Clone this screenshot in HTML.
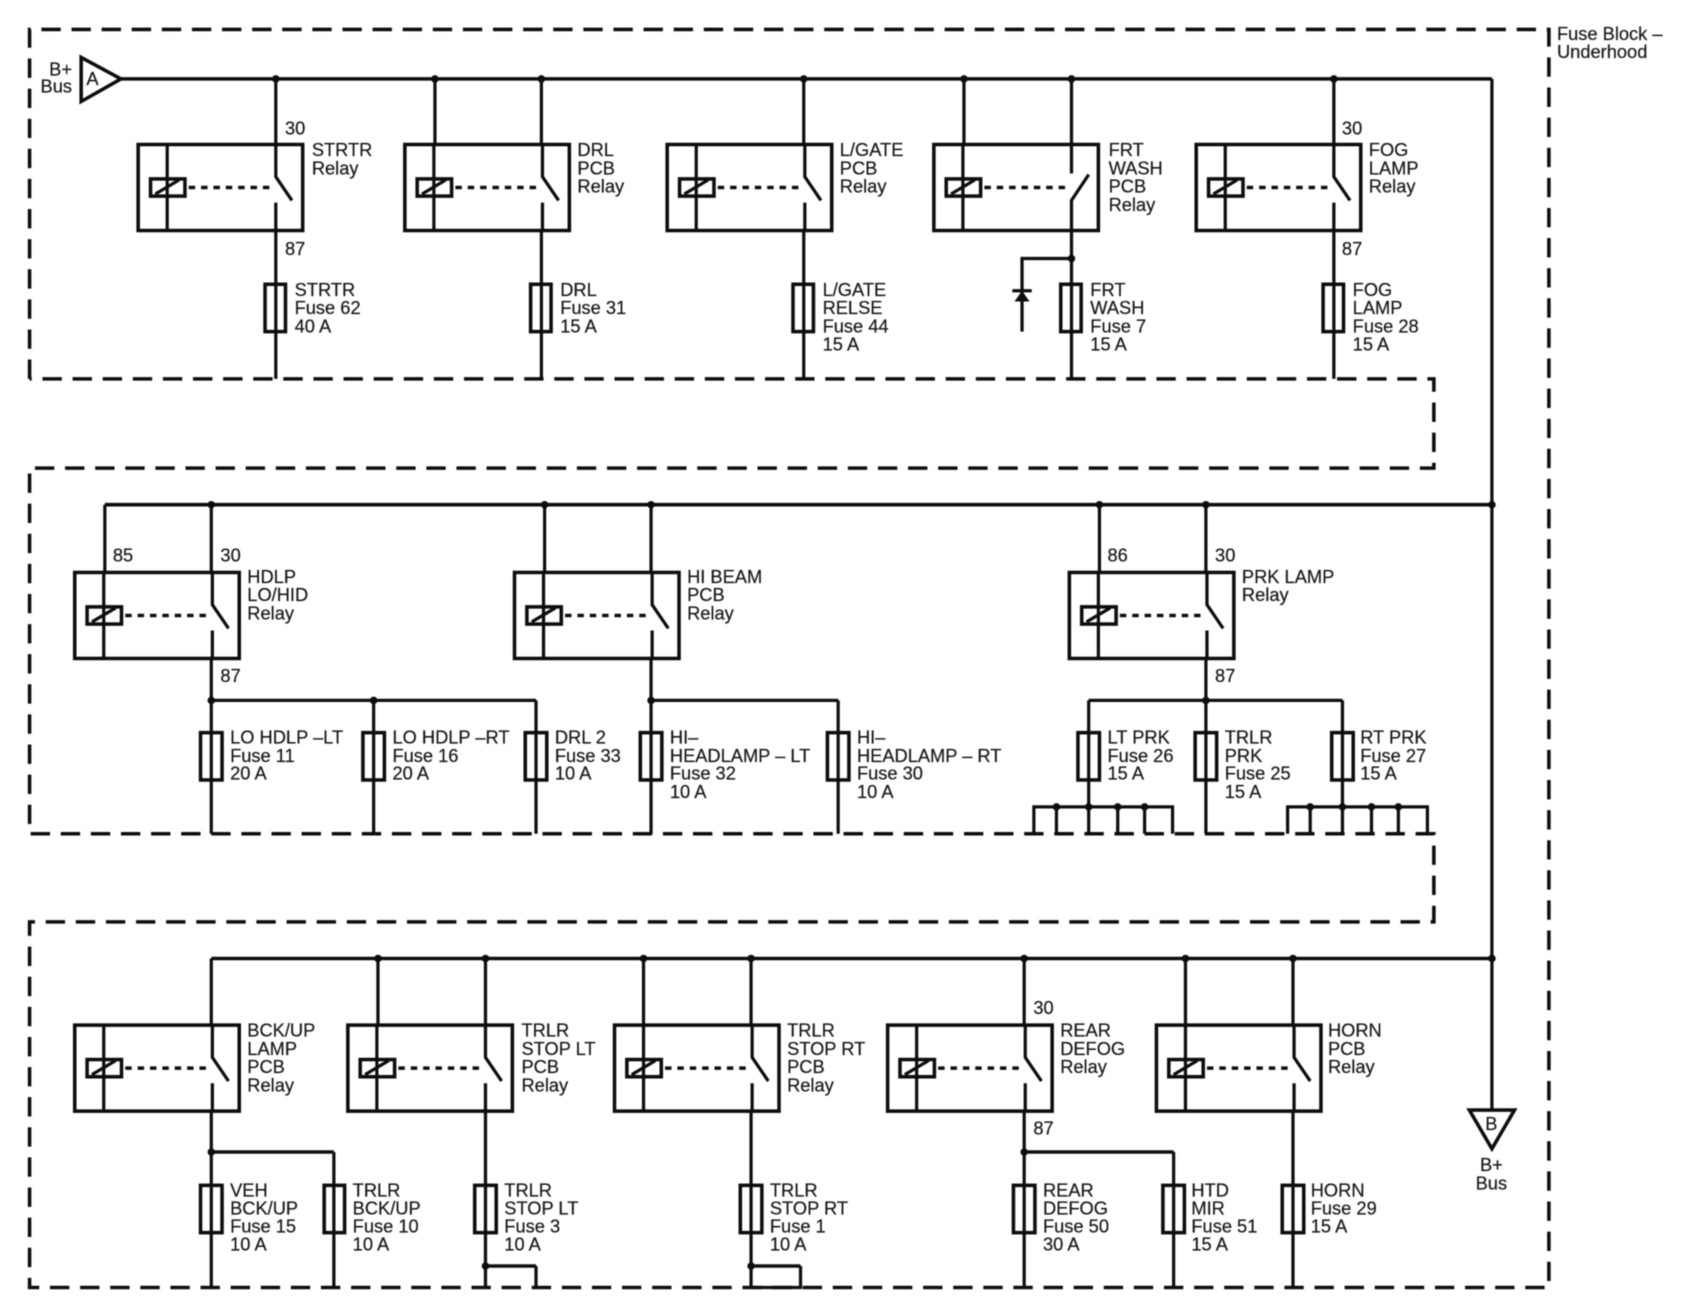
<!DOCTYPE html>
<html><head><meta charset="utf-8"><style>
html,body{margin:0;padding:0;background:#fff;width:1686px;height:1312px;overflow:hidden}
svg{display:block}
text{font-family:"Liberation Sans",sans-serif;font-size:17px;fill:#1a1a1a;stroke:#1a1a1a;stroke-width:0.2}
.w{stroke:#111;stroke-width:3;fill:none}
.t{stroke:#111;stroke-width:3.3;fill:none}
</style></head><body>
<svg width="1686" height="1312" viewBox="0 0 1568 1220" xmlns="http://www.w3.org/2000/svg">
<defs>
<filter id="b"><feGaussianBlur stdDeviation="0.5"/></filter>
<g id="core">
<rect class="t" x="0" y="0" width="153" height="80"/>
<path class="w" d="M27 0V80"/>
<rect class="t" x="11.5" y="32" width="32" height="16" fill="#fff"/>
<path class="w" d="M16 46L38 33"/>
<path class="t" d="M47 40H125" stroke-dasharray="6 5.5"/>
</g>
<g id="r">
<use href="#core"/>
<path class="w" d="M128 0V30L143 52M128 54V80"/>
</g>
</defs>
<g filter="url(#b)">
<g transform="translate(0.5,0.3)">
<!-- dashed enclosure -->
<path class="t" stroke-dasharray="18 10" d="M27 352V27H1440V1197H27V857H1333V775H27V435H1333V352H27"/>

<!-- feeds -->
<path class="t" d="M112 73H1387"/>
<path class="w" d="M1387 73V1032"/>
<path class="t" d="M97 469H1387M196 891H1387"/>
<path class="w" d="M97 532V469M196 953V891"/>
<path class="w" d="M256 73V134M404 73V134M503 73V134M747 73V134M896 73V134M996 73V134M1240 73V134"/>
<path class="w" d="M506 469V532M605 469V532M1022 469V532M1121 469V532M196 469V532"/>
<path class="w" d="M351 891V953M451 891V953M598 891V953M698 891V953M952 891V953M1102 891V953M1202 891V953"/>

<!-- outputs row 1 -->
<path class="w" d="M256 214V352M503 214V352M747 214V352M996 214V352M1240 214V352"/>
<path class="w" d="M996 240H950V308"/>
<path class="w" d="M941 270H959"/>
<path d="M950 270L957 280H943Z" fill="#111"/>

<!-- outputs row 2 -->
<path class="w" d="M196 612V775M347 651V775M498 651V775M196 651H498"/>
<path class="w" d="M605 612V775M779 651V775M605 651H779"/>
<path class="w" d="M1121 612V775M1012 651V775M1248 651V775M1012 651H1248"/>
<path class="w" d="M961 775V750H1090V775M982 750V775M1039 750V775M1064 750V775"/>
<path class="w" d="M1197 775V750H1327V775M1218 750V775M1275 750V775M1300 750V775"/>

<!-- outputs row 3 -->
<path class="w" d="M196 1033V1197M310 1071V1197"/>
<path class="t" d="M196 1071H310"/>
<path class="w" d="M451 1033V1197M498 1177V1197"/>
<path class="t" d="M451 1177H498"/>
<path class="w" d="M698 1033V1197M744 1177V1197H698"/>
<path class="t" d="M698 1177H744"/>
<path class="w" d="M952 1033V1197M1091 1071V1197"/>
<path class="t" d="M952 1071H1091"/>
<path class="w" d="M1202 1033V1197"/>

<!-- relays -->
<use href="#r" x="128" y="134"/>
<use href="#r" x="376" y="134"/>
<use href="#r" x="620" y="134"/>
<g transform="translate(868,134)"><use href="#core"/><path class="w" d="M128 0V27M128 80V52L144 28"/></g>
<use href="#r" x="1112" y="134"/>
<use href="#r" x="69" y="532"/>
<use href="#r" x="478" y="532"/>
<use href="#r" x="994" y="532"/>
<use href="#r" x="69" y="953"/>
<use href="#r" x="323" y="953"/>
<use href="#r" x="571" y="953"/>
<use href="#r" x="825" y="953"/>
<use href="#r" x="1075" y="953"/>

<!-- fuses -->
<g class="t">
<rect x="246" y="264" width="19" height="44"/><rect x="493" y="264" width="19" height="44"/><rect x="737" y="264" width="19" height="44"/><rect x="986" y="264" width="19" height="44"/><rect x="1230" y="264" width="19" height="44"/>
<rect x="186" y="681" width="20" height="44"/><rect x="337" y="681" width="20" height="44"/><rect x="488" y="681" width="20" height="44"/><rect x="595" y="681" width="20" height="44"/><rect x="769" y="681" width="20" height="44"/><rect x="1002" y="681" width="20" height="44"/><rect x="1111" y="681" width="20" height="44"/><rect x="1238" y="681" width="20" height="44"/>
<rect x="186" y="1102" width="20" height="44"/><rect x="301" y="1102" width="19" height="44"/><rect x="441" y="1102" width="20" height="44"/><rect x="688" y="1102" width="20" height="44"/><rect x="942" y="1102" width="20" height="44"/><rect x="1081" y="1102" width="20" height="44"/><rect x="1192" y="1102" width="20" height="44"/>
</g>

<!-- dots -->
<g fill="#111">
<circle cx="256" cy="73" r="3.5"/><circle cx="404" cy="73" r="3.5"/><circle cx="503" cy="73" r="3.5"/><circle cx="747" cy="73" r="3.5"/><circle cx="896" cy="73" r="3.5"/><circle cx="996" cy="73" r="3.5"/><circle cx="1240" cy="73" r="3.5"/>
<circle cx="996" cy="240" r="3.5"/>
<circle cx="196" cy="469" r="3.5"/><circle cx="506" cy="469" r="3.5"/><circle cx="605" cy="469" r="3.5"/><circle cx="1022" cy="469" r="3.5"/><circle cx="1121" cy="469" r="3.5"/><circle cx="1387" cy="469" r="3.5"/>
<circle cx="196" cy="651" r="3.5"/><circle cx="347" cy="651" r="3.5"/><circle cx="605" cy="651" r="3.5"/><circle cx="1121" cy="651" r="3.5"/>
<circle cx="982" cy="750" r="3.5"/><circle cx="1012" cy="750" r="3.5"/><circle cx="1039" cy="750" r="3.5"/><circle cx="1064" cy="750" r="3.5"/>
<circle cx="1218" cy="750" r="3.5"/><circle cx="1248" cy="750" r="3.5"/><circle cx="1275" cy="750" r="3.5"/><circle cx="1300" cy="750" r="3.5"/>
<circle cx="351" cy="891" r="3.5"/><circle cx="451" cy="891" r="3.5"/><circle cx="598" cy="891" r="3.5"/><circle cx="698" cy="891" r="3.5"/><circle cx="952" cy="891" r="3.5"/><circle cx="1102" cy="891" r="3.5"/><circle cx="1202" cy="891" r="3.5"/><circle cx="1387" cy="891" r="3.5"/>
<circle cx="196" cy="1071" r="3.5"/><circle cx="952" cy="1071" r="3.5"/><circle cx="451" cy="1177" r="3.5"/><circle cx="698" cy="1177" r="3.5"/>
</g>

<!-- triangles -->
<path class="t" fill="#fff" d="M75 53L112 73L75 94Z"/>
<path class="t" fill="#fff" d="M1366 1032H1408L1387 1068Z"/>
</g>

<!-- labels -->
<text x="86" y="79" text-anchor="middle">A</text>
<text x="1387" y="1051" text-anchor="middle">B</text>
<text x="67" y="70" text-anchor="end">B+</text>
<text x="67" y="86" text-anchor="end">Bus</text>
<text x="1387" y="1089" text-anchor="middle">B+</text>
<text x="1387" y="1106" text-anchor="middle">Bus</text>
<text x="1448" y="37">Fuse Block –</text>
<text x="1448" y="54">Underhood</text>

<text x="265" y="125">30</text><text x="265" y="237">87</text>
<text x="1248" y="125">30</text><text x="1248" y="237">87</text>
<text x="105" y="522">85</text><text x="205" y="522">30</text><text x="205" y="634">87</text>
<text x="1030" y="522">86</text><text x="1130" y="522">30</text><text x="1130" y="634">87</text>
<text x="961" y="943">30</text><text x="961" y="1055">87</text>

<text x="290" y="145">STRTR</text><text x="290" y="162">Relay</text>
<text x="537" y="145">DRL</text><text x="537" y="162">PCB</text><text x="537" y="179">Relay</text>
<text x="781" y="145">L/GATE</text><text x="781" y="162">PCB</text><text x="781" y="179">Relay</text>
<text x="1031" y="145">FRT</text><text x="1031" y="162">WASH</text><text x="1031" y="179">PCB</text><text x="1031" y="196">Relay</text>
<text x="1273" y="145">FOG</text><text x="1273" y="162">LAMP</text><text x="1273" y="179">Relay</text>

<text x="274" y="275">STRTR</text><text x="274" y="292">Fuse 62</text><text x="274" y="309">40 A</text>
<text x="521" y="275">DRL</text><text x="521" y="292">Fuse 31</text><text x="521" y="309">15 A</text>
<text x="765" y="275">L/GATE</text><text x="765" y="292">RELSE</text><text x="765" y="309">Fuse 44</text><text x="765" y="326">15 A</text>
<text x="1014" y="275">FRT</text><text x="1014" y="292">WASH</text><text x="1014" y="309">Fuse 7</text><text x="1014" y="326">15 A</text>
<text x="1258" y="275">FOG</text><text x="1258" y="292">LAMP</text><text x="1258" y="309">Fuse 28</text><text x="1258" y="326">15 A</text>

<text x="230" y="542">HDLP</text><text x="230" y="559">LO/HID</text><text x="230" y="576">Relay</text>
<text x="639" y="542">HI BEAM</text><text x="639" y="559">PCB</text><text x="639" y="576">Relay</text>
<text x="1155" y="542">PRK LAMP</text><text x="1155" y="559">Relay</text>

<text x="214" y="691.5">LO HDLP –LT</text><text x="214" y="708.5">Fuse 11</text><text x="214" y="725">20 A</text>
<text x="365" y="691.5">LO HDLP –RT</text><text x="365" y="708.5">Fuse 16</text><text x="365" y="725">20 A</text>
<text x="516" y="691.5">DRL 2</text><text x="516" y="708.5">Fuse 33</text><text x="516" y="725">10 A</text>
<text x="623" y="691.5">HI–</text><text x="623" y="708.5">HEADLAMP – LT</text><text x="623" y="725">Fuse 32</text><text x="623" y="742">10 A</text>
<text x="797" y="691.5">HI–</text><text x="797" y="708.5">HEADLAMP – RT</text><text x="797" y="725">Fuse 30</text><text x="797" y="742">10 A</text>
<text x="1030" y="691.5">LT PRK</text><text x="1030" y="708.5">Fuse 26</text><text x="1030" y="725">15 A</text>
<text x="1139" y="691.5">TRLR</text><text x="1139" y="708.5">PRK</text><text x="1139" y="725">Fuse 25</text><text x="1139" y="742">15 A</text>
<text x="1265" y="691.5">RT PRK</text><text x="1265" y="708.5">Fuse 27</text><text x="1265" y="725">15 A</text>

<text x="230" y="964">BCK/UP</text><text x="230" y="981">LAMP</text><text x="230" y="998">PCB</text><text x="230" y="1015">Relay</text>
<text x="485" y="964">TRLR</text><text x="485" y="981">STOP LT</text><text x="485" y="998">PCB</text><text x="485" y="1015">Relay</text>
<text x="732" y="964">TRLR</text><text x="732" y="981">STOP RT</text><text x="732" y="998">PCB</text><text x="732" y="1015">Relay</text>
<text x="986" y="964">REAR</text><text x="986" y="981">DEFOG</text><text x="986" y="998">Relay</text>
<text x="1235" y="964">HORN</text><text x="1235" y="981">PCB</text><text x="1235" y="998">Relay</text>

<text x="214" y="1112.5">VEH</text><text x="214" y="1129.5">BCK/UP</text><text x="214" y="1146">Fuse 15</text><text x="214" y="1163">10 A</text>
<text x="328" y="1112.5">TRLR</text><text x="328" y="1129.5">BCK/UP</text><text x="328" y="1146">Fuse 10</text><text x="328" y="1163">10 A</text>
<text x="469" y="1112.5">TRLR</text><text x="469" y="1129.5">STOP LT</text><text x="469" y="1146">Fuse 3</text><text x="469" y="1163">10 A</text>
<text x="716" y="1112.5">TRLR</text><text x="716" y="1129.5">STOP RT</text><text x="716" y="1146">Fuse 1</text><text x="716" y="1163">10 A</text>
<text x="970" y="1112.5">REAR</text><text x="970" y="1129.5">DEFOG</text><text x="970" y="1146">Fuse 50</text><text x="970" y="1163">30 A</text>
<text x="1108" y="1112.5">HTD</text><text x="1108" y="1129.5">MIR</text><text x="1108" y="1146">Fuse 51</text><text x="1108" y="1163">15 A</text>
<text x="1219" y="1112.5">HORN</text><text x="1219" y="1129.5">Fuse 29</text><text x="1219" y="1146">15 A</text>
</g>
</svg>
</body></html>
